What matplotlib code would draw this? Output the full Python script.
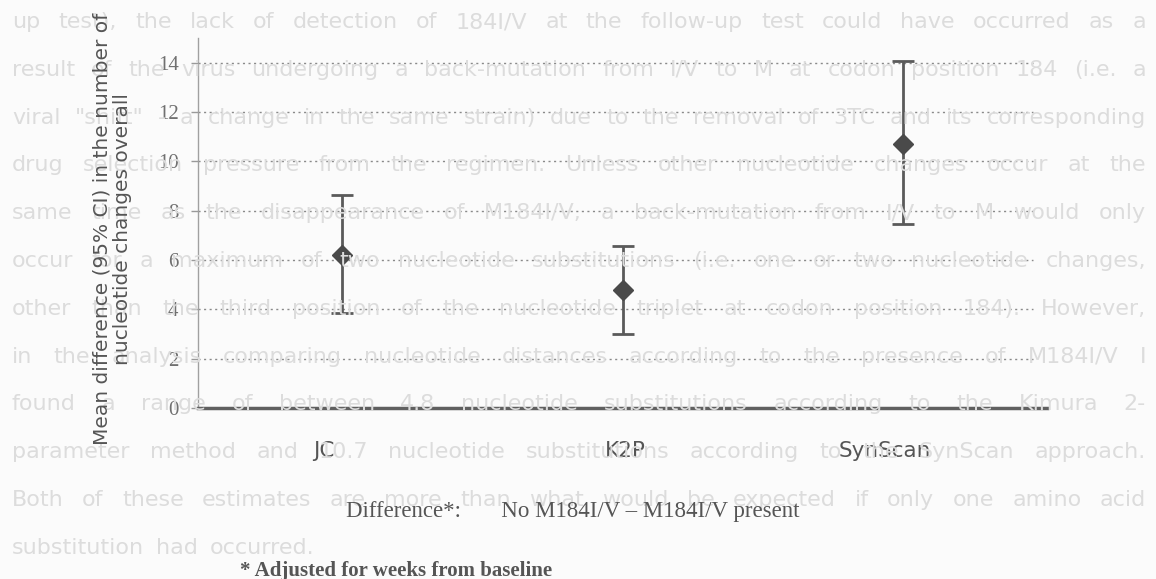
import matplotlib.pyplot as plt
from matplotlib.transforms import ScaledTranslation

# mean difference and 95% CI per distance method
methods = ['JC', 'K2P', 'SynScan']
mean_diff = [6.2, 4.8, 10.7]
ci_low = [3.87, 3.0, 7.45]
ci_high = [8.65, 6.55, 14.05]
yticks = [0, 2, 4, 6, 8, 10, 12, 14]

# text of the facing page showing through the paper
page_lines = [
    'up test), the lack of detection of 184I/V at the follow-up test could have occurred as a',
    'result of the virus undergoing a back-mutation from I/V to M at codon position 184 (i.e. a',
    'viral "shift" - a change in the same strain) due to the removal of 3TC and its corresponding',
    'drug selection pressure from the regimen.  Unless other nucleotide changes occur at the',
    'same time as the disappearance of M184I/V, a back-mutation from I/V to M would only',
    'occur for a maximum of two nucleotide substitutions (i.e. one or two nucleotide changes,',
    'other than the third position of the nucleotide triplet at codon position 184).  However,',
    'in the analysis comparing nucleotide distances according to the presence of M184I/V I',
    'found a range of between 4.8 nucleotide substitutions according to the Kimura 2-',
    'parameter method and 10.7 nucleotide substitutions according to the SynScan approach.',
    'Both of these estimates are more than what would be expected if only one amino acid',
    'substitution had occurred.',
]

W, H = 1156, 579
fig = plt.figure(figsize=(W / 100, H / 100), dpi=100, facecolor='#fbfbfb')
renderer = fig.canvas.get_renderer()

# justified background page text
left, right = 12, 1146
page_font = dict(fontsize=16, family='DejaVu Sans')
for k, line in enumerate(page_lines):
    y = 1 - (22 + 47.8 * k) / H
    words = line.split()
    widths = []
    for w in words:
        t = fig.text(0, 0, w, **page_font)
        widths.append(t.get_window_extent(renderer).width)
        t.remove()
    if k == len(page_lines) - 1:
        gap = 12
    else:
        gap = (right - left - sum(widths)) / (len(words) - 1)
    x = left
    for w, wd in zip(words, widths):
        fig.text(x / W, y, w, color='#dcdcdc', va='center', zorder=0, **page_font)
        x += wd + gap

ax = fig.add_axes([198 / W, 1 - 408 / H, (1047 - 198) / W, (408 - 38) / H])
ax.set_facecolor('none')

xs = range(len(methods))
lower = [m - lo for m, lo in zip(mean_diff, ci_low)]
upper = [hi - m for m, hi in zip(mean_diff, ci_high)]
ax.errorbar(xs, mean_diff, yerr=[lower, upper], fmt='D', color='#4a4a4a',
            ecolor='#5a5a5a', elinewidth=2, capsize=8, capthick=2,
            markersize=10, zorder=3)

for v in yticks[1:]:
    ax.axhline(v, xmin=0, xmax=0.983, color='#8a8a8a', linestyle=(0, (1.5, 2.5)),
               linewidth=1, zorder=1)

ax.set_xlim(-0.513, 2.513)
ax.set_ylim(0, 15)
ax.set_yticks(yticks)
ax.set_yticklabels([str(v) for v in yticks], family='Liberation Serif',
                   fontsize=15, color='#707070')
ax.set_xticks(list(xs))
ax.set_xticklabels(methods, fontsize=15.5, color='#555555')
ax.tick_params(axis='x', length=0, pad=24)
ax.tick_params(axis='y', length=5, width=1, color='#999999', pad=9)

# category labels sit a little off their bars
label_shift_px = [-18, 3, -18]
for lbl, dx in zip(ax.get_xticklabels(), label_shift_px):
    lbl.set_transform(lbl.get_transform() + ScaledTranslation(dx / 100, 0, fig.dpi_scale_trans))

for s in ['top', 'right']:
    ax.spines[s].set_visible(False)
ax.spines['left'].set_color('#a0a0a0')
ax.spines['left'].set_linewidth(1)
ax.spines['bottom'].set_color('#606060')
ax.spines['bottom'].set_linewidth(2.5)

fig.text(112 / W, 1 - 229 / H,
         'Mean difference (95% CI) in the number of\nnucleotide changes overall',
         rotation=90, ha='center', va='center', multialignment='center',
         fontsize=14.5, color='#555555', linespacing=1.1)

fig.text(346 / W, 1 - 511 / H, 'Difference*:       No M184I/V \u2013 M184I/V present',
         family='Liberation Serif', fontsize=16.5, color='#555555', va='center')
fig.text(240 / W, 1 - 571 / H, '* Adjusted for weeks from baseline',
         family='Liberation Serif', fontsize=15, fontweight='bold',
         color='#555555', va='center')

fig.savefig('out.png', dpi=100, facecolor=fig.get_facecolor())
